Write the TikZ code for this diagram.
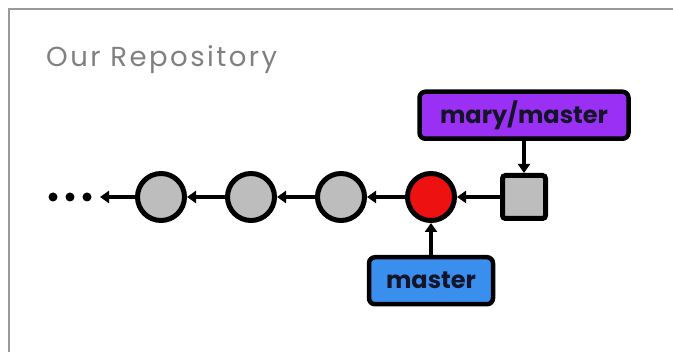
\documentclass[tikz,border=0pt]{standalone}
\usepackage{fontspec}
\setmainfont{Poppins}
\usetikzlibrary{arrows.meta,positioning}
\definecolor{framegray}{HTML}{9A9A9A}
\definecolor{titlegray}{HTML}{808080}
\definecolor{commitgray}{HTML}{BDBDBD}
\definecolor{headred}{HTML}{EE1111}
\definecolor{remotepurple}{HTML}{9B30F5}
\definecolor{localblue}{HTML}{3A8EEE}
\definecolor{labelink}{HTML}{15152A}

\begin{document}
\begin{tikzpicture}[
  x=1pt, y=1pt,
  node distance=38pt,
  commit/.style={circle, draw, line width=5pt, fill=commitgray, minimum size=47pt, inner sep=0pt},
  fetched/.style={draw, line width=5pt, fill=commitgray, rounded corners=3pt, minimum size=43pt, inner sep=0pt},
  branch/.style={draw, line width=4.5pt, rounded corners=6pt, minimum height=47pt, inner sep=0pt, font=\fontsize{24}{28}\selectfont\bfseries, text=labelink},
  arr/.style={-{Triangle[length=9pt, width=12pt]}, line width=4pt}
]
\useasboundingbox (0,0) rectangle (673,352);
\draw[framegray, line width=2pt] (9,0) -- (9,343) -- (673,343);
\node[anchor=base west, text=titlegray, font=\fontsize{27.5}{32}\selectfont\addfontfeature{LetterSpace=9}, inner sep=0pt] (title) at (46,285) {Our Repository};

% commit chain
\node[commit] (c1) at (161,155) {};
\node[commit, right=of c1] (c2) {};
\node[commit, right=of c2] (c3) {};
\node[commit, right=of c3, fill=headred] (c4) {};
\node[fetched, right=43pt of c4] (c5) {};
\coordinate (more) at (100,155);
\foreach \x in {53,70,87} \fill (\x,155) circle (4.5pt);

% branch labels
\node[branch, fill=remotepurple, minimum width=209pt, above=32pt of c5] (mary) {mary/master};
\node[branch, fill=localblue, minimum width=124pt, below=32pt of c4] (master) {master};

\draw[arr] (c1) -- (more);
\draw[arr] (c2) -- (c1);
\draw[arr] (c3) -- (c2);
\draw[arr] (c4) -- (c3);
\draw[arr] (c5) -- (c4);
\draw[arr] (mary) -- (c5);
\draw[arr] (master) -- (c4);
\end{tikzpicture}
\end{document}
